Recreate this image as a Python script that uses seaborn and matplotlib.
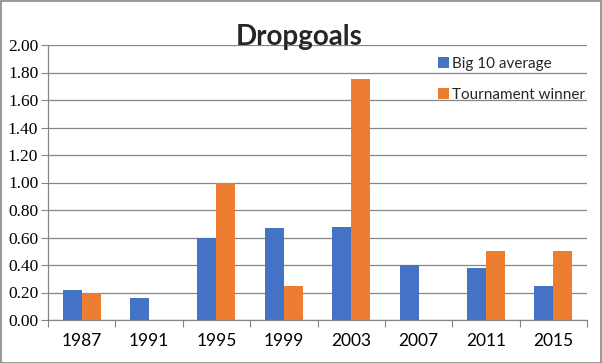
import matplotlib
matplotlib.use("Agg")
import matplotlib.pyplot as plt
import seaborn as sns
import pandas as pd
from matplotlib.patches import Rectangle

years = ["1987", "1991", "1995", "1999", "2003", "2007", "2011", "2015"]
big10_avg = [0.22, 0.16, 0.60, 0.67, 0.68, 0.40, 0.375, 0.25]
winner = [0.20, 0.0, 1.00, 0.25, 1.75, 0.0, 0.50, 0.50]
series_names = ["Big 10 average", "Tournament winner"]
colors = ["#4472C4", "#ED7D31"]
yticks = [0.0, 0.2, 0.4, 0.6, 0.8, 1.0, 1.2, 1.4, 1.6, 1.8, 2.0]

df = pd.DataFrame({
    "year": years * 2,
    "value": big10_avg + winner,
    "series": [series_names[0]] * len(years) + [series_names[1]] * len(years),
})

sns.set_theme(style="white")
plt.rcParams["font.family"] = ["Lato", "DejaVu Sans"]

fig = plt.figure(figsize=(6.02, 3.63), dpi=100)
ax = fig.add_axes([48 / 602, 1 - 320 / 363, (587 - 48) / 602, (320 - 45) / 363])

sns.barplot(data=df, x="year", y="value", hue="series", order=years,
            hue_order=series_names, palette=colors, width=0.565,
            saturation=1, ax=ax, legend=True, linewidth=0, gap=0)

ax.set_ylim(0, 2.0)
ax.set_xlim(-0.5, len(years) - 0.5)
ax.set_yticks(yticks)
ax.set_yticklabels([f"{v:.2f}" for v in yticks])
ax.set_xlabel("")
ax.set_ylabel("")
ax.tick_params(axis="x", length=0, pad=9, labelsize=12.5, labelcolor="black")
ax.tick_params(axis="y", length=5, width=0.8, color="#868686", pad=2, left=True,
               labelfontfamily="Liberation Serif", labelsize=12.5,
               labelcolor="black")
ax.yaxis.grid(True, color="#868686", linewidth=0.9)
ax.set_axisbelow(True)

for s in ["top", "right"]:
    ax.spines[s].set_visible(False)
for s in ["left", "bottom"]:
    ax.spines[s].set_color("#868686")
    ax.spines[s].set_linewidth(0.9)

# category boundary tick marks on the x axis
ax.set_xticks([i - 0.5 for i in range(len(years) + 1)], minor=True)
ax.tick_params(axis="x", which="minor", length=5, width=0.8, color="#868686",
               bottom=True, direction="out")

ax.set_title("Dropgoals", fontsize=20, fontweight="bold", pad=0)
ax.title.set_position((0.466, 1.0))

handles, labels = ax.get_legend_handles_labels()
ax.legend_.remove()
fig.legend(handles, labels, loc="upper left", bbox_to_anchor=(424 / 602, 1 - 43 / 363),
           frameon=False, fontsize=11, handlelength=0.75, handleheight=0.75,
           handletextpad=0.2, labelspacing=1.1)

fig.patches.append(Rectangle((0.5 / 602, 0.5 / 363), 1 - 1.5 / 602, 1 - 1.5 / 363,
                             transform=fig.transFigure, fill=False,
                             edgecolor="#868686", linewidth=1.2))

fig.canvas.draw()
for lbl in ax.get_yticklabels():
    lbl.set_fontfamily(["Liberation Serif"])

fig.savefig("out.png", dpi=100)
